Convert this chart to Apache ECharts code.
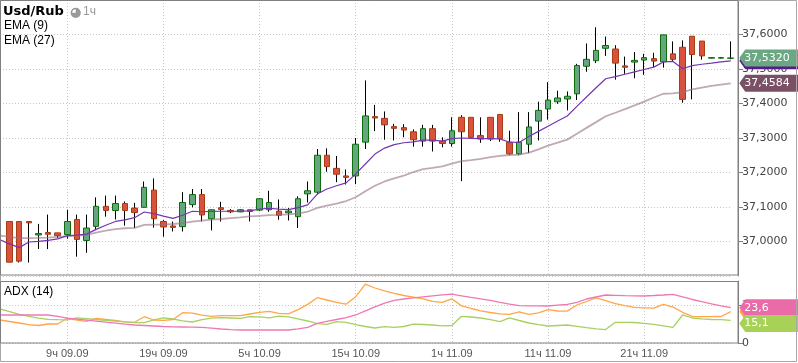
<!DOCTYPE html>
<html><head><meta charset="utf-8">
<script src="https://cdn.jsdelivr.net/npm/echarts@6/dist/echarts.min.js"></script>
<style>html,body{margin:0;padding:0;background:#fff}#c{width:798px;height:363px}</style>
</head><body><div id="c"></div>
<script>
// ---- categories (hourly), first one is the preceding hour partly off-screen ----
const categories = [
"2ч 09.09","3ч 09.09","4ч 09.09","5ч 09.09","6ч 09.09","7ч 09.09","8ч 09.09","9ч 09.09","10ч 09.09","11ч 09.09","12ч 09.09","13ч 09.09","14ч 09.09","15ч 09.09","16ч 09.09","17ч 09.09","18ч 09.09","19ч 09.09","20ч 09.09","21ч 09.09","22ч 09.09","23ч 09.09",
"0ч 10.09","1ч 10.09","2ч 10.09","3ч 10.09","4ч 10.09","5ч 10.09","6ч 10.09","7ч 10.09","8ч 10.09","9ч 10.09","10ч 10.09","11ч 10.09","12ч 10.09","13ч 10.09","14ч 10.09","15ч 10.09","16ч 10.09","17ч 10.09","18ч 10.09","19ч 10.09","20ч 10.09","21ч 10.09","22ч 10.09","23ч 10.09",
"0ч 11.09","1ч 11.09","2ч 11.09","3ч 11.09","4ч 11.09","5ч 11.09","6ч 11.09","7ч 11.09","8ч 11.09","9ч 11.09","10ч 11.09","11ч 11.09","12ч 11.09","13ч 11.09","14ч 11.09","15ч 11.09","16ч 11.09","17ч 11.09","18ч 11.09","19ч 11.09","20ч 11.09","21ч 11.09","22ч 11.09","23ч 11.09",
"0ч 12.09","1ч 12.09","2ч 12.09","3ч 12.09","4ч 12.09","5ч 12.09","6ч 12.09"];
const labeledCategories = ["9ч 09.09","19ч 09.09","5ч 10.09","15ч 10.09","1ч 11.09","11ч 11.09","21ч 11.09"];

// ---- OHLC (from 3ч 09.09) ----
const open  = [37.058,37.058,37.058,37.019,37.026,37.025,37.020,37.064,37.003,37.044,37.102,37.090,37.110,37.097,37.099,37.149,37.058,37.045,37.043,37.107,37.136,37.066,37.098,37.090,37.086,37.092,37.091,37.092,37.088,37.083,37.072,37.138,37.143,37.250,37.212,37.190,37.190,37.288,37.362,37.357,37.333,37.330,37.318,37.291,37.327,37.291,37.284,37.360,37.360,37.307,37.360,37.368,37.288,37.254,37.282,37.349,37.384,37.405,37.413,37.428,37.508,37.524,37.560,37.558,37.509,37.520,37.526,37.530,37.521,37.544,37.563,37.595,37.581,37.5315,37.5315,37.531];
const close = [36.940,36.943,37.054,37.023,37.021,37.017,37.058,37.006,37.039,37.102,37.090,37.110,37.090,37.084,37.157,37.066,37.042,37.041,37.113,37.136,37.077,37.092,37.093,37.086,37.092,37.087,37.124,37.113,37.076,37.088,37.124,37.147,37.250,37.217,37.195,37.186,37.282,37.364,37.358,37.338,37.328,37.323,37.295,37.327,37.291,37.284,37.321,37.318,37.302,37.297,37.297,37.298,37.254,37.288,37.332,37.380,37.410,37.416,37.421,37.510,37.528,37.554,37.568,37.517,37.505,37.525,37.533,37.523,37.599,37.528,37.412,37.542,37.538,37.533,37.533,37.532];
const low   = [36.940,36.939,36.939,36.978,36.978,37.010,37.008,36.956,36.967,37.033,37.072,37.064,37.046,37.039,37.099,37.040,37.014,37.029,37.029,37.099,37.058,37.032,37.058,37.082,37.085,37.058,37.088,37.086,37.063,37.061,37.039,37.113,37.136,37.202,37.172,37.165,37.166,37.268,37.320,37.295,37.293,37.302,37.275,37.275,37.261,37.273,37.275,37.175,37.298,37.286,37.291,37.289,37.250,37.250,37.256,37.293,37.353,37.399,37.380,37.410,37.492,37.517,37.538,37.469,37.486,37.473,37.483,37.505,37.504,37.523,37.402,37.412,37.527,37.531,37.5305,37.528];
const high  = [37.058,37.058,37.058,37.051,37.078,37.025,37.092,37.078,37.078,37.128,37.133,37.133,37.116,37.112,37.174,37.183,37.062,37.058,37.143,37.152,37.152,37.092,37.115,37.094,37.094,37.092,37.126,37.147,37.122,37.097,37.131,37.174,37.268,37.270,37.248,37.209,37.300,37.467,37.396,37.377,37.341,37.340,37.325,37.338,37.338,37.302,37.360,37.366,37.360,37.360,37.360,37.368,37.321,37.375,37.375,37.405,37.462,37.437,37.435,37.515,37.574,37.621,37.594,37.569,37.536,37.549,37.544,37.547,37.599,37.580,37.583,37.595,37.581,37.5335,37.535,37.580];

// ---- EMA lines (from 2ч 09.09) ----
const ema9  = [37.0049,36.9932,36.9822,36.9986,37.0005,37.0033,37.0077,37.0170,37.0186,37.0214,37.0351,37.0471,37.0581,37.0625,37.0690,37.0855,37.0808,37.0734,37.0671,37.0762,37.0877,37.0863,37.0871,37.0877,37.0877,37.0882,37.0890,37.0937,37.0964,37.0937,37.0926,37.0981,37.1063,37.1375,37.1521,37.1616,37.1699,37.1959,37.2247,37.2534,37.2707,37.2808,37.2863,37.2890,37.2937,37.2937,37.2910,37.2981,37.3000,37.2992,37.2981,37.2981,37.2973,37.2877,37.2871,37.3041,37.3192,37.3340,37.3490,37.3638,37.3918,37.4189,37.4458,37.4718,37.4781,37.4849,37.4918,37.4986,37.5055,37.5205,37.5219,37.5008,37.5096,37.5137,37.5170,37.5205,37.5238];
const ema27 = [37.0170,37.0137,37.0096,37.0096,37.0104,37.0115,37.0132,37.0151,37.0170,37.0192,37.0260,37.0315,37.0356,37.0384,37.0397,37.0479,37.0488,37.0488,37.0507,37.0534,37.0575,37.0608,37.0636,37.0652,37.0677,37.0699,37.0726,37.0745,37.0762,37.0773,37.0786,37.0808,37.0863,37.0973,37.1041,37.1101,37.1173,37.1282,37.1458,37.1616,37.1740,37.1830,37.1912,37.2014,37.2096,37.2132,37.2178,37.2260,37.2329,37.2356,37.2397,37.2444,37.2479,37.2507,37.2521,37.2575,37.2671,37.2781,37.2863,37.2953,37.3126,37.3293,37.3460,37.3630,37.3732,37.3836,37.3945,37.4055,37.4173,37.4282,37.4296,37.4329,37.4408,37.4463,37.4510,37.4548,37.4584];

// ---- ADX (14) panel (from 2ч 09.09) ----
const adxOrange = [15.37,14.37,13.37,12.23,11.70,12.70,12.70,16.51,15.24,14.51,16.38,15.71,15.04,14.17,13.84,17.58,15.37,15.11,15.71,20.25,19.92,18.58,17.78,18.25,18.25,18.25,19.39,20.45,21.19,19.79,19.52,22.33,25.80,30.28,28.74,27.21,25.94,30.95,39.30,36.76,34.76,33.16,31.75,30.68,29.48,27.87,27.14,29.48,24.87,23.06,21.46,20.39,19.45,19.18,20.86,19.18,20.19,22.33,21.39,21.32,25.40,27.74,30.08,28.34,26.27,25.00,23.80,23.53,23.26,25.80,23.93,20.52,17.85,17.58,17.58,17.71,20.92];
const adxPink   = [18.72,18.72,18.72,18.72,18.72,18.72,17.85,16.58,15.91,15.24,14.57,13.90,13.30,12.63,12.03,11.70,11.36,11.03,10.83,10.70,10.56,10.43,9.89,9.36,8.89,8.69,8.69,8.69,8.69,8.69,8.69,9.49,10.49,13.17,14.44,15.71,16.98,18.72,21.52,24.13,26.67,28.54,29.41,30.15,30.82,31.48,32.15,32.62,31.55,30.48,29.55,28.54,27.21,25.94,24.93,24.87,24.80,24.73,25.27,25.74,27.21,29.41,30.75,32.09,31.89,31.68,31.55,31.42,31.75,32.09,32.55,30.88,29.08,27.61,26.20,24.87,23.60];
const adxGreen  = [22.73,20.92,19.12,17.78,16.58,15.78,15.57,15.51,16.84,16.31,15.71,15.17,14.64,14.10,13.57,13.57,15.44,16.78,16.04,14.84,14.04,15.57,16.64,16.91,16.71,16.51,17.58,17.45,16.78,17.98,17.45,16.18,14.71,12.90,12.50,14.24,13.84,12.30,11.03,10.03,10.90,10.49,11.03,12.63,12.37,12.03,11.50,11.70,17.85,17.38,16.71,15.57,14.30,16.78,15.04,13.37,12.30,11.36,11.70,12.03,11.16,10.29,9.49,8.96,13.84,13.84,13.70,13.10,12.50,11.50,10.49,18.72,16.71,16.11,15.71,15.57,15.10];

// ---- axis ticks ----
const priceTicks = {min: 36.9, max: 37.7, step: 0.1};
const adxTicks = {min: 0, max: 41.44, step: 25};

const FONT = 'DejaVu Sans, Liberation Sans, sans-serif';
const wickData = [['-','-','-','-']].concat(open.map((o,i)=>[o, close[i], low[i], high[i]]));
const bodyData = [['-','-','-','-']].concat(open.map((o,i)=>[o, close[i], Math.min(o,close[i]), Math.max(o,close[i])]));
const last = categories.length - 1;
const comma = (v,d)=>v.toFixed(d).replace('.', ',');
const showIdx = (i)=>labeledCategories.indexOf(categories[i]) >= 0;
const tagPath = 'path://M0,9 L6,0 L62,0 L62,18 L6,18 Z';
function tag(value, color, digits, dy, z) {
  return {
    symbol: tagPath, symbolSize: [62, 17], symbolOffset: [39.6, dy || 0], z: z || 5,
    silent: true, animation: false,
    itemStyle: {color: color},
    label: {show: true, position: 'insideLeft', distance: 5, color: '#fff', fontFamily: FONT, fontSize: 11,
            formatter: () => comma(value, digits)},
    data: [{coord: [categories[last], value]}]
  };
}
const grid = {left: -1.4, width: 732.1};
const option = {
  animation: false,
  grid: [
    {left: grid.left, width: grid.width, top: -16, height: 292},
    {left: grid.left, width: grid.width, top: 281, height: 62}
  ],
  xAxis: [0, 1].map(g => ({
    type: 'category', gridIndex: g, data: categories, boundaryGap: false,
    axisLine: {show: false}, axisTick: {show: false},
    axisLabel: {show: g === 1, interval: (i)=>showIdx(i), color: '#555', fontFamily: 'Liberation Sans, Arial, sans-serif', fontSize: 11, margin: 5},
    splitLine: {show: true, interval: (i)=>showIdx(i), lineStyle: {color: '#c8c8c8', type: [1, 2], width: 1}}
  })),
  yAxis: [
    {type: 'value', gridIndex: 0, position: 'right', offset: 7.3, min: priceTicks.min, max: priceTicks.max, interval: priceTicks.step,
     axisLine: {show: true, lineStyle: {color: '#808080'}}, axisTick: {show: true, length: 5, lineStyle: {color: '#808080'}},
     axisLabel: {showMinLabel: false, showMaxLabel: false, color: '#444', fontFamily: FONT, fontSize: 11, margin: 4, formatter: v => comma(v, 4)},
     splitLine: {show: true, lineStyle: {color: '#c8c8c8', type: [1, 2]}}},
    {type: 'value', gridIndex: 1, position: 'right', offset: 7.3, min: adxTicks.min, max: adxTicks.max, interval: adxTicks.step,
     axisLine: {show: true, lineStyle: {color: '#808080'}}, axisTick: {show: true, length: 5, lineStyle: {color: '#808080'}},
     axisLabel: {showMaxLabel: false, color: '#444', fontFamily: FONT, fontSize: 11, margin: 4, formatter: v => String(Math.round(v))},
     splitLine: {show: true, lineStyle: {color: '#c8c8c8', type: [1, 2]}}}
  ],
  series: [
    {type: 'candlestick', xAxisIndex: 0, yAxisIndex: 0, data: wickData, barWidth: 1, clip: false, z: 2, silent: true,
     itemStyle: {color: '#000', color0: '#000', borderColor: '#000', borderColor0: '#000', borderWidth: 1}},
    {type: 'candlestick', xAxisIndex: 0, yAxisIndex: 0, data: bodyData, barWidth: 6, clip: false, z: 3, silent: true,
     itemStyle: {color: '#66a67e', color0: '#d9523d', borderColor: '#0c6d0c', borderColor0: '#a83c12', borderWidth: 1},
     markPoint: tag(close[close.length-1], '#69a882', 4, 0, 7)},
    {type: 'line', xAxisIndex: 0, yAxisIndex: 0, data: ema27, symbol: 'none', z: 4, silent: true,
     lineStyle: {color: 'rgba(150,112,130,0.6)', width: 1.8},
     markPoint: tag(ema27[last], '#7a5064', 4, 0, 5)},
    {type: 'line', xAxisIndex: 0, yAxisIndex: 0, data: ema9, symbol: 'none', z: 5, silent: true,
     lineStyle: {color: '#7436b0', width: 1.2},
     markPoint: tag(ema9[last], '#5a1a8e', 4, 0, 6)},
    {type: 'line', xAxisIndex: 1, yAxisIndex: 1, data: adxOrange, symbol: 'none', z: 3, silent: true,
     lineStyle: {color: '#ffa64a', width: 1.3},
     markPoint: tag(adxOrange[last], '#ffa64a', 1, 0, 5)},
    {type: 'line', xAxisIndex: 1, yAxisIndex: 1, data: adxGreen, symbol: 'none', z: 3, silent: true,
     lineStyle: {color: '#a8d060', width: 1.3},
     markPoint: tag(adxGreen[last], '#a8d158', 1, 3, 7)},
    {type: 'line', xAxisIndex: 1, yAxisIndex: 1, data: adxPink, symbol: 'none', z: 3, silent: true,
     lineStyle: {color: '#ee78b2', width: 1.3},
     markPoint: tag(adxPink[last], '#e96ca8', 1, 0, 6)}
  ],
  graphic: [
    {type: 'rect', z: 100, silent: true, shape: {x: 0.5, y: 0.5, width: 796, height: 361}, style: {fill: 'none', stroke: '#a8a8a8', lineWidth: 1}},
    {type: 'rect', z: 100, silent: true, shape: {x: 0.5, y: 0.5, width: 737.5, height: 274.5}, style: {fill: 'none', stroke: '#808080', lineWidth: 1}},
    {type: 'rect', z: 100, silent: true, shape: {x: 0.5, y: 281.5, width: 737.5, height: 61.5}, style: {fill: 'none', stroke: '#808080', lineWidth: 1}},
    {type: 'text', z: 100, left: 3, top: 5, style: {text: 'Usd/Rub', font: 'bold 13px DejaVu Sans', fill: '#000'}},
    {type: 'circle', z: 100, shape: {cx: 75.7, cy: 12.8, r: 4.3}, style: {fill: '#fff', stroke: '#999', lineWidth: 1.6}},
    {type: 'sector', z: 100, shape: {cx: 75.7, cy: 12.8, r: 4.3, r0: 0, startAngle: -Math.PI/2, endAngle: Math.PI, clockwise: true}, style: {fill: '#999'}},
    {type: 'text', z: 100, left: 83, top: 6, style: {text: '1ч', font: '12px Liberation Sans', fill: '#999'}},
    {type: 'text', z: 100, left: 4, top: 20, style: {text: 'EMA (9)', font: '12px Liberation Sans', fill: '#000'}},
    {type: 'text', z: 100, left: 4, top: 35, style: {text: 'EMA (27)', font: '12px Liberation Sans', fill: '#000'}},
    {type: 'text', z: 100, left: 4, top: 286, style: {text: 'ADX (14)', font: '12px Liberation Sans', fill: '#000'}}
  ]
};
echarts.init(document.getElementById('c'), null, {renderer: 'canvas'}).setOption(option);
</script></body></html>
